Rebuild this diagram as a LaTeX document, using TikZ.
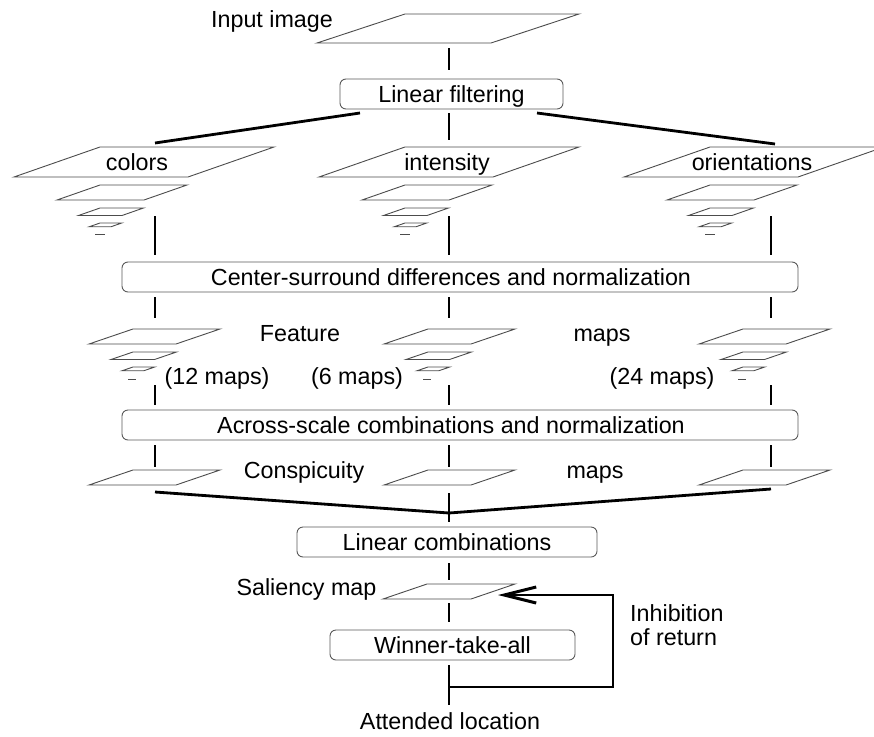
\documentclass[tikz,border=0pt]{standalone}
\usepackage{fontspec}
\setmainfont{Liberation Sans}
\usetikzlibrary{arrows.meta}

\tikzset{
  plane/.style={draw=black!70, line width=0.9pt, fill=white},
  stage/.style={draw=black!65, line width=0.9pt, rounded corners=6pt,
    minimum height=30pt, inner sep=0pt, text height=16.5pt, text depth=0pt,
    font=\fontsize{23.3}{27}\selectfont},
  lbl/.style={inner sep=0pt, text height=16.5pt, text depth=0pt,
    font=\fontsize{23.3}{24}\selectfont},
  link/.style={line width=2.8pt},
}

% one map plane: top-left corner (#1,#2), width #3, slant #4, height #5
\newcommand\mapplane[5]{\draw[plane] (#1,#2) -- ++(#3,0) -- ++(-#4,#5) -- ++(-#3,0) -- cycle;}
% full-resolution pyramid: four planes and a coarsest scale shown as a dash
\newcommand\bigpyramid[1]{%
  \foreach \k/\ty in {0/147,1/185,2/208,3/223}{%
    \pgfmathsetmacro\sc{1/2^\k}%
    \mapplane{#1}{\ty}{174*\sc}{86*\sc}{30*\sc}}%
  \draw[plane] (#1-5,234) -- (#1+5,234);}
% feature-map pyramid: three planes and a dash
\newcommand\smallpyramid[1]{%
  \foreach \k/\ty in {0/329,1/352,2/367}{%
    \pgfmathsetmacro\sc{1/2^\k}%
    \mapplane{#1}{\ty}{87*\sc}{44*\sc}{15*\sc}}%
  \draw[plane] (#1-5,379) -- (#1+3,379);}

\begin{document}
\begin{tikzpicture}[x=1pt,y=-1pt]
\useasboundingbox (0,0) rectangle (874,736);

% ---- input image
\mapplane{405}{14}{174}{88}{29}
\node[lbl] (inlbl) at (272,19) {Input image};

% ---- processing stages
\node[stage, minimum width=223pt] (filt) at (451.5,94) {Linear filtering};
\node[stage, minimum width=676pt] (csd) at (460,277) {};
\node[lbl] (csdt) at (451,277) {Center-surround differences and normalization};
\node[stage, minimum width=676pt] (acr) at (460,425) {};
\node[lbl] (acrt) at (451,425) {Across-scale combinations and normalization};
\node[stage, minimum width=300pt] (lin) at (447,542) {Linear combinations};
\node[stage, minimum width=245pt] (wta) at (452.5,645) {Winner-take-all};

% ---- channel pyramids
\bigpyramid{100}
\bigpyramid{405}
\bigpyramid{710}
\node[lbl] (colt) at (137,162) {colors};
\node[lbl] (intt) at (447,162) {intensity};
\node[lbl] (orit) at (752,162) {orientations};

% ---- feature maps
\smallpyramid{133}
\smallpyramid{428}
\smallpyramid{743}
\node[lbl] (feat) at (300,333) {Feature};
\node[lbl] (featm) at (602,333) {maps};
\node[lbl] (n12) at (217,376) {(12 maps)};
\node[lbl] (n6) at (357,376) {(6 maps)};
\node[lbl] (n24) at (662,376) {(24 maps)};

% ---- conspicuity maps
\mapplane{133}{470}{87}{44}{15}
\mapplane{428}{470}{87}{44}{15}
\mapplane{743}{470}{87}{44}{15}
\node[lbl] (consp) at (304,470) {Conspicuity};
\node[lbl] (conspm) at (595,470) {maps};

% ---- saliency map
\mapplane{427}{584}{88}{44}{15}
\node[lbl] (sal) at (306.5,587) {Saliency map};
\node[lbl, align=left, anchor=west] (ior) at (630,637) {Inhibition\\of return};
\node[lbl] (att) at (450,721) {Attended location};

% ---- connector end points
\coordinate (inB) at (449,48);
\coordinate (filtIn) at (449,70);
\coordinate (filtL) at (360,113);
\coordinate (filtM) at (449,113);
\coordinate (filtR) at (537,113);
\coordinate (colT) at (155,143);
\coordinate (intT) at (449,140);
\coordinate (oriT) at (775,144);
\coordinate (conspC) at (155,492);
\coordinate (conspI) at (449,493);
\coordinate (conspO) at (771,489);
\coordinate (join) at (449,513);
\coordinate (joinB) at (449,522);
\coordinate (linB) at (449,563);
\coordinate (salT) at (449,580);
\coordinate (salB) at (449,603);
\coordinate (wtaT) at (449,622);
\coordinate (wtaB) at (449,665);
\coordinate (attT) at (449,705);
\coordinate (iorA) at (449,687);
\coordinate (iorB) at (613,687);
\coordinate (iorC) at (613,595);
\coordinate (salR) at (498,595);

\draw[link] (inB) -- (filtIn);
\draw[link] (filtL) -- (colT);
\draw[link] (filtM) -- (intT);
\draw[link] (filtR) -- (oriT);

% vertical flow through the three channels
\foreach \cx in {155,449,771}{
  \draw[link] (\cx,216) -- (\cx,255);
  \draw[link] (\cx,297) -- (\cx,318);
  \draw[link] (\cx,385) -- (\cx,405);
  \draw[link] (\cx,445) -- (\cx,467);
}

\draw[link] (conspC) -- (join) -- (conspO);
\draw[link] (conspI) -- (joinB);
\draw[link] (linB) -- (salT);
\draw[link] (salB) -- (wtaT);
\draw[link] (wtaB) -- (attT);
\draw[link, -{Straight Barb[length=32pt,width=16pt,line width=3pt]}] (iorA) -- (iorB) -- (iorC) -- (salR);
\end{tikzpicture}
\end{document}
